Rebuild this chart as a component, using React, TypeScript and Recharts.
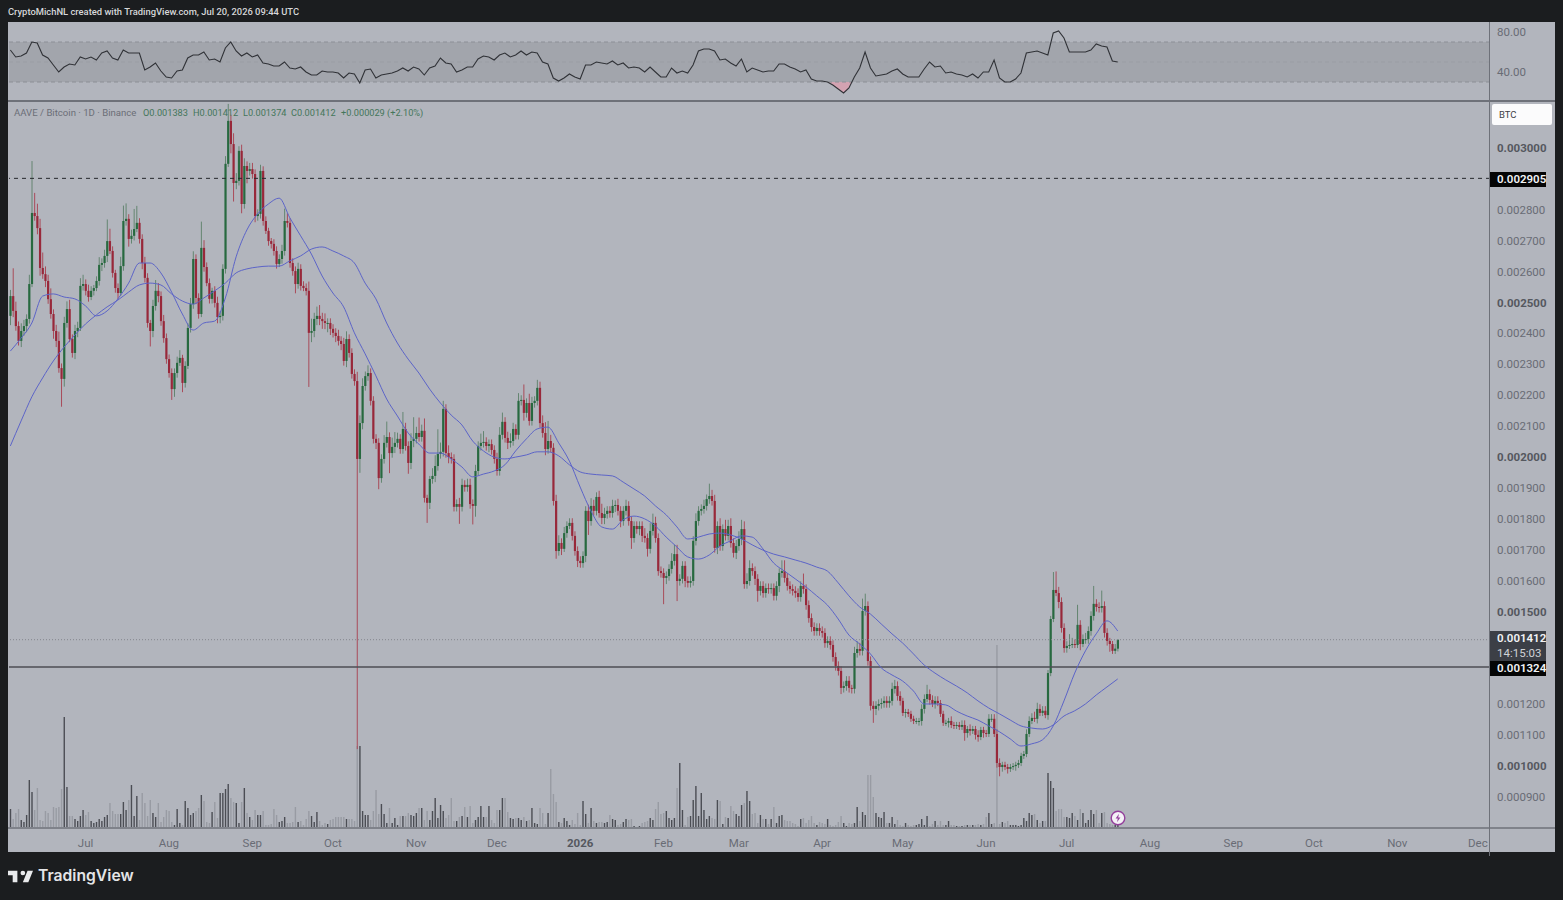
import React from "react";
import { Area, Bar, ComposedChart, Line, ReferenceArea, ReferenceLine, XAxis, YAxis } from "recharts";

// prices are in units of 0.000001 BTC, one entry per day from 2025-06-03
const firstOpen = 2460;
const closes = [
  2524,2476,2427,2379,2411,2427,2450,2563,2793,2783,2744,2615,2595,2573,2514,2466,2411,2379,2291,2256,2437,2482,2385,2340,2411,2421,2557,2563,
  2541,2521,2541,2550,2573,2625,2631,2654,2702,2670,2599,2550,2534,2621,2767,2774,2709,2719,2741,2761,2709,2631,2583,2437,2411,2492,2541,2524,2443,2388,2320,
  2275,2223,2275,2308,2324,2243,2298,2421,2498,2644,2518,2466,2680,2618,2566,2515,2541,2502,2456,2460,2612,2952,3091,3016,2890,2897,2994,2822,2945,2929,2935,
  2919,2783,2790,2929,2767,2735,2702,2693,2670,2628,2644,2670,2767,2761,2631,2605,2563,2612,2557,2550,2541,2405,2411,2450,2460,2450,2443,2437,2437,2418,
  2405,2395,2379,2369,2314,2385,2340,2272,2249,1997,2113,2233,2265,2275,2185,2062,2049,1935,1997,2049,2068,2016,2036,2049,2062,2029,2094,2039,1984,2055,2062,
  2081,2068,2088,1871,1855,1932,1942,1974,2013,2020,2159,2016,2003,1997,1842,1851,1842,1913,1906,1913,1851,1845,1958,2039,2049,2052,2039,2045,2026,1997,
  1958,2075,2117,2065,2049,2055,2094,2075,2185,2188,2146,2178,2120,2178,2185,2227,2113,2081,2029,2055,2033,1861,1699,1725,1706,1757,1780,1790,1748,1699,1667,
  1660,1683,1829,1796,1845,1829,1874,1822,1806,1819,1829,1822,1845,1848,1829,1796,1829,1845,1796,1741,1780,1770,1780,1748,1741,1706,1764,1790,1741,1634,1628,
  1612,1618,1641,1667,1689,1602,1609,1651,1602,1596,1602,1732,1796,1829,1835,1845,1867,1877,1861,1709,1780,1715,1770,1748,1780,1725,1693,1715,
  1738,1770,1592,1602,1644,1634,1609,1570,1586,1563,1579,1576,1579,1554,1586,1628,1634,1612,1586,1576,1570,1563,1550,1586,1576,1524,1482,1453,1440,1450,1440,
  1434,1401,1408,1395,1356,1327,1311,1256,1262,1279,1256,1253,1369,1382,1376,1505,1521,1343,1198,1188,1198,1204,1207,1214,1207,1214,1253,1262,1230,1214,
  1175,1178,1172,1156,1149,1149,1149,1188,1220,1236,1217,1204,1214,1207,1172,1143,1143,1149,1136,1133,1136,1130,1136,1110,1123,1117,1123,1104,1097,1120,1110,
  1107,1156,1156,1107,1013,1000,1007,1000,994,1000,1003,1007,1013,1036,1042,1107,1149,1159,1156,1188,1175,1182,1168,1304,1479,1573,1563,1534,1450,1385,
  1392,1395,1398,1395,1460,1398,1414,1414,1440,1489,1528,1518,1515,1521,1434,1408,1398,1376,1383,1412,
];
// wick lengths above and below the candle body
const upperWicks = [
  20,90,30,15,25,20,15,30,168,65,40,30,50,25,20,35,15,20,30,15,20,25,30,15,20,20,25,30,
  15,20,15,10,15,25,15,20,70,40,15,10,15,30,50,50,15,20,65,55,15,15,20,15,10,20,35,25,15,20,15,
  15,15,15,20,25,10,15,15,20,25,15,15,85,25,15,15,10,15,20,15,15,25,55,20,35,25,15,20,25,15,20,
  20,15,15,20,15,15,10,10,15,15,15,20,40,25,15,15,15,20,15,15,15,30,40,20,30,35,20,25,15,15,
  15,15,20,15,20,25,15,15,15,30,25,25,15,25,15,15,15,15,15,25,50,15,30,35,20,15,55,20,15,25,70,
  20,50,20,40,10,10,25,35,80,30,26,15,25,15,15,15,20,20,15,20,20,15,20,15,30,35,15,15,15,15,
  20,25,30,15,20,25,20,15,25,15,50,15,30,20,15,26,20,25,35,65,20,15,20,25,15,20,15,15,15,15,15,
  15,15,15,20,25,20,15,20,30,20,15,15,20,15,20,15,15,20,15,15,15,15,15,15,25,15,25,30,20,15,15,
  15,15,15,25,30,30,15,15,15,15,15,15,25,15,15,20,15,40,20,20,15,25,15,30,20,25,15,20,
  25,30,25,25,25,15,15,15,15,15,15,15,15,15,15,15,35,35,15,15,15,15,15,15,40,15,15,15,15,15,15,
  15,15,15,15,15,15,15,15,15,15,15,10,20,25,20,40,40,15,15,15,15,15,15,15,15,15,20,20,15,15,
  10,10,10,10,10,10,10,15,15,30,15,15,15,15,10,10,10,10,15,10,10,10,15,15,10,15,10,10,15,10,10,
  10,15,15,15,15,15,10,10,10,10,10,10,10,10,10,15,15,15,20,20,15,15,15,10,10,58,60,20,15,15,
  15,35,20,15,65,15,15,20,15,15,58,15,15,50,15,15,10,10,15,0,
];
const lowerWicks = [
  30,20,15,15,20,15,20,15,10,15,20,25,15,20,15,15,25,20,15,90,25,15,10,15,20,20,10,15,
  15,15,10,15,10,15,20,15,20,10,15,15,20,10,15,15,25,15,15,10,15,20,15,15,50,20,15,20,15,15,15,
  15,35,25,15,10,30,15,10,15,15,20,15,10,15,10,15,15,15,20,20,15,15,10,30,60,20,15,30,15,40,15,
  15,20,15,15,15,10,15,15,15,15,10,15,15,15,15,15,30,15,15,10,15,175,30,20,20,20,25,20,30,20,
  15,20,15,20,15,20,15,15,15,939,45,20,15,15,15,15,20,36,15,15,15,65,15,20,15,15,15,15,35,20,20,
  15,15,15,15,65,20,15,20,15,15,15,15,20,15,15,15,55,15,15,15,15,60,35,15,15,15,15,20,15,15,
  15,15,15,15,20,15,15,15,15,15,25,15,15,15,15,15,15,15,20,15,15,15,25,15,20,10,15,10,15,15,20,
  15,15,20,45,15,15,15,15,20,20,15,15,15,20,15,20,15,15,15,35,15,15,20,20,15,25,15,15,15,15,15,
  85,20,15,15,15,65,15,15,20,15,15,15,15,15,15,15,15,15,15,15,20,15,15,15,15,15,15,20,
  15,20,15,15,15,15,20,35,15,15,15,15,15,15,15,20,15,15,15,15,15,15,15,15,15,15,15,15,15,15,15,
  15,15,15,15,15,15,15,20,15,15,15,15,15,15,15,15,15,15,15,45,20,15,15,15,15,15,15,15,15,15,
  10,15,10,10,10,10,15,15,15,10,15,10,15,10,10,10,10,15,10,10,10,10,10,25,15,15,10,15,15,10,15,
  10,10,10,10,15,30,15,10,15,10,10,15,10,10,10,10,10,10,10,15,10,10,10,15,10,10,10,20,15,15,
  15,10,10,10,10,20,10,15,15,15,15,15,15,15,15,15,25,10,10,9,
];
const volumes = [
  19,9,15,19,8,6,13,48,36,18,40,8,7,17,15,8,21,20,21,39,111,41,12,12,9,7,12,18,
  13,16,7,5,6,9,7,11,13,25,17,14,14,14,26,18,28,43,12,32,8,35,25,12,28,15,11,25,6,11,18,
  17,6,3,19,5,3,27,20,13,15,17,20,33,27,6,5,16,26,10,35,35,39,44,30,26,25,5,26,40,15,11,
  8,18,13,13,17,3,3,4,19,13,6,7,11,5,5,6,21,6,7,3,9,17,12,6,16,7,3,5,4,8,
  9,11,11,11,11,9,9,9,7,82,82,17,13,13,8,17,38,14,24,14,5,20,5,10,3,12,12,12,15,13,12,
  15,20,20,8,17,8,17,30,10,23,17,10,13,30,7,7,11,12,21,11,22,5,8,11,22,11,11,22,8,5,
  18,18,30,30,16,10,9,10,10,8,11,7,8,20,5,4,20,15,4,15,59,34,26,6,5,10,7,3,8,4,15,
  3,27,14,5,20,7,5,6,6,5,6,13,9,8,3,4,6,9,8,9,2,1,2,5,6,7,10,8,19,26,14,
  15,17,10,8,10,40,65,18,3,11,12,28,42,12,35,18,9,12,10,9,28,27,4,11,10,22,17,14,
  12,23,25,37,27,14,15,5,13,9,9,4,9,21,5,12,13,8,7,7,5,4,2,9,10,5,8,12,5,3,6,
  5,4,9,3,2,3,6,12,5,2,5,4,5,21,7,16,13,53,53,31,15,11,10,16,5,5,11,4,8,3,
  2,5,3,2,3,3,4,9,3,12,2,4,7,3,7,3,3,7,3,3,2,2,2,3,3,3,3,3,4,3,4,
  11,15,4,5,183,4,6,5,7,3,3,3,2,3,10,7,15,13,14,8,5,7,7,55,47,40,17,19,19,11,
  11,10,15,12,8,19,15,5,8,18,14,18,5,15,16,5,4,3,3,3,
];
const maFast = [
  2346,2388,2437,2524,2531,2521,2515,2492,2460,2476,2515,2566,2631,2631,2599,2537,2466,2414,2437,2443,2518,2651,2738,2790,2822,2841,
  2777,2719,2660,2589,2534,2489,2405,2337,2266,2191,2136,2081,2045,2016,2016,1997,1971,1939,1948,1958,1978,2023,2062,2094,2100,2049,
  1990,1906,1829,1777,1770,1800,1812,1803,1780,1744,1712,1680,1673,1686,1715,1732,1748,1744,1706,1660,1634,1609,1583,1554,1524,1479,
  1427,1398,1366,1321,1298,1278,1246,1204,1204,1201,1181,1165,1152,1133,1114,1091,1068,1075,1088,1133,1214,1304,1376,1431,1473,1440,
];
const maSlow = [
  2039,2120,2198,2259,2314,2359,2398,2434,2463,2489,2511,2537,2560,2566,2560,2531,2508,2498,2518,2541,2566,2599,2612,2618,2621,2621,
  2638,2654,2676,2683,2670,2654,2631,2566,2515,2437,2372,2320,2275,2223,2178,2139,2107,2055,2023,2003,1997,2003,2010,2020,2020,2007,
  1978,1955,1948,1945,1942,1922,1900,1877,1845,1816,1777,1738,1744,1754,1757,1751,1738,1719,1702,1689,1680,1670,1660,1647,1634,1596,
  1554,1518,1495,1463,1431,1401,1366,1330,1304,1282,1262,1240,1214,1191,1172,1152,1133,1126,1123,1136,1165,1182,1204,1233,1259,1285,
];
const rsiValues = [
  62,55,56,59,70,69,57,54,47,40,45,48,47,55,53,55,52,59,61,54,52,62,59,59,59,42,45,49,41,35,34,41,42,54,57,57,60,52,53,50,64,70,61,56,59,55,57,49,48,46,46,50,44,43,45,40,37,37,41,40,40,39,34,39,38,29,42,43,34,37,38,39,41,44,41,45,43,37,44,46,54,49,48,40,42,45,45,53,56,55,52,57,59,55,57,61,57,60,59,50,48,34,31,34,38,35,33,47,47,50,
  49,48,51,47,49,44,45,44,40,45,40,35,35,44,39,41,39,47,61,63,63,61,52,53,49,46,53,40,44,42,40,41,41,48,48,45,43,40,42,33,31,31,30,27,23,19,24,35,44,60,44,36,37,38,41,43,38,35,35,35,43,50,45,46,39,40,38,37,35,38,34,40,40,52,34,30,30,33,39,59,60,61,59,57,79,81,74,60,60,60,60,62,68,66,65,51,50,
];
// the stretch of RSI under 30 in April 2026, shaded in the pane
const oversoldStart = 304;
const oversoldValues = [30, 29, 27, 25, 23, 21, 19, 21, 24, 30];

// 0.002900, 0.001400 and 0.001300 sit behind the price labels, as in TradingView
const priceTicks = [900,1000,1100,1200,1500,1600,1700,1800,1900,2000,2100,2200,2300,2400,2500,2600,2700,2800,3000];
const strongTicks = [1000, 1500, 2000, 2500, 3000];
const rsiTicks = [80, 40];
const monthDays = ["2025-07-01","2025-08-01","2025-09-01","2025-10-01","2025-11-01","2025-12-01","2026-01-01","2026-02-01","2026-03-01","2026-04-01","2026-05-01","2026-06-01","2026-07-01","2026-08-01","2026-09-01","2026-10-01","2026-11-01","2026-12-01"];
const monthNames = ["Jul","Aug","Sep","Oct","Nov","Dec","2026","Feb","Mar","Apr","May","Jun","Jul","Aug","Sep","Oct","Nov","Dec"];

const TOTAL_DAYS = 551;
const GREY_TEXT = "#696c75";
const UP = "#27693f";
const DOWN = "#98283a";

const dayKey = (i: number) => new Date(Date.UTC(2025, 5, 3 + i)).toISOString().slice(0, 10);

const rows = Array.from({ length: TOTAL_DAYS }, (_, i) => {
  const row: any = { day: dayKey(i) };
  if (i < closes.length) {
    const close = closes[i];
    const open = i === 0 ? firstOpen : closes[i - 1];
    const high = Math.max(open, close) + upperWicks[i];
    const low = Math.min(open, close) - lowerWicks[i];
    Object.assign(row, { open, close, high, low, range: [low, high], volume: volumes[i] });
    if (i % 2 === 0) row.rsi = rsiValues[i / 2];
    if (i % 4 === 0) {
      row.maFast = maFast[i / 4];
      row.maSlow = maSlow[i / 4];
    }
  }
  const o = i - oversoldStart;
  if (o >= 0 && o < oversoldValues.length) row.oversold = [oversoldValues[o], 30];
  return row;
});

function Candle(props: any) {
  const { x, y, width, height, payload } = props;
  if (!payload || !payload.range) return null;
  const { open, close, high, low } = payload;
  const top = Math.min(y, y + height);
  const k = Math.abs(height) / (high - low);
  const cx = x + width / 2;
  const up = close >= open;
  const bodyTop = top + (high - Math.max(open, close)) * k;
  const bodyH = Math.max(Math.abs(open - close) * k, 1);
  return (
    <g>
      <rect x={cx - 0.45} y={top} width={0.9} height={Math.abs(height)} fill={up ? "#5c8069" : "#a8404f"} />
      <rect x={cx - 1.1} y={bodyTop} width={2.2} height={bodyH} fill={up ? UP : DOWN} />
    </g>
  );
}

function VolumeBar(props: any) {
  const { x, y, width, height, payload } = props;
  if (!payload || !payload.volume) return null;
  const up = payload.close >= payload.open;
  return <rect x={x + width / 2 - 0.7} y={y} width={1.4} height={height} fill={up ? "#4b4d54" : "#989ba3"} />;
}

function PriceTick(props: any) {
  const { x, y, payload } = props;
  const strong = strongTicks.includes(payload.value);
  return (
    <text x={x - 1} y={y + 3} fontSize={11.5} fontFamily="Roboto" fontWeight={strong ? 700 : 400} fill={strong ? "#55585f" : GREY_TEXT}>
      {(payload.value / 1e6).toFixed(6)}
    </text>
  );
}

function RsiTick(props: any) {
  const { x, y, payload } = props;
  return (
    <text x={x - 1} y={y + 4} fontSize={11.5} fontFamily="Roboto" fill={GREY_TEXT}>
      {payload.value.toFixed(2)}
    </text>
  );
}

function MonthTick(props: any) {
  const { x, y, payload } = props;
  const name = monthNames[monthDays.indexOf(payload.value)];
  const strong = name === "2026";
  return (
    <text x={x} y={y + 10} textAnchor="middle" fontSize={11.5} fontFamily="Roboto" fontWeight={strong ? 700 : 400} fill={strong ? "#55585f" : GREY_TEXT}>
      {name}
    </text>
  );
}

function PriceLabel({ top, height, bg, children }: any) {
  return (
    <div style={{ position: "absolute", left: 1490, top, width: 56, height, boxSizing: "border-box", paddingLeft: 7, background: bg, color: "#f2f3f5", fontSize: 11.5, fontWeight: 600, fontFamily: "Roboto", lineHeight: "15px" }}>
      {children}
    </div>
  );
}

function Legend({ left, color, size = 9.2, children }: any) {
  return <span style={{ position: "absolute", left, top: 107, fontSize: size, lineHeight: "12px", color, whiteSpace: "nowrap" }}>{children}</span>;
}

export default function App() {
  return (
    <div style={{ position: "fixed", left: 0, top: 0, width: 1563, height: 900, background: "#1b1d1f", overflow: "hidden", fontFamily: "Roboto" }}>
      <div style={{ position: "absolute", left: 8, top: 5, fontSize: 9.4, lineHeight: "14px", fontWeight: 500, color: "#d6d7d9", whiteSpace: "nowrap" }}>
        CryptoMichNL created with TradingView.com, Jul 20, 2026 09:44 UTC
      </div>
      <div style={{ position: "absolute", left: 8, top: 22, width: 1547, height: 830, background: "#b2b5bd" }} />

      <div style={{ position: "absolute", left: 9, top: 22 }}>
        <ComposedChart width={1546} height={79} data={rows} margin={{ top: 0, right: 0, bottom: 0, left: 0 }}>
          <XAxis dataKey="day" scale="band" hide />
          <YAxis yAxisId={0} orientation="right" width={65} domain={[11, 90]} ticks={rsiTicks} interval={0} axisLine={false} tickLine={false} tick={<RsiTick />} />
          <ReferenceArea y1={30} y2={70} fill="#a2a5ac" fillOpacity={1} stroke="none" ifOverflow="hidden" />
          <ReferenceLine y={70} stroke="#8c8f96" strokeDasharray="4 3" />
          <ReferenceLine y={50} stroke="#9a9da4" strokeDasharray="4 3" />
          <ReferenceLine y={30} stroke="#8c8f96" strokeDasharray="4 3" />
          <Area dataKey="oversold" stroke="none" fill="#d3a3b2" fillOpacity={1} isAnimationActive={false} dot={false} activeDot={false} />
          <Line dataKey="rsi" stroke="#303237" strokeWidth={1.1} dot={false} activeDot={false} connectNulls isAnimationActive={false} />
        </ComposedChart>
      </div>

      <div style={{ position: "absolute", left: 9, top: 101 }}>
        <ComposedChart width={1546} height={751} data={rows} barCategoryGap={0} barGap={0} margin={{ top: 0, right: 65, bottom: 24, left: 0 }}>
          <XAxis dataKey="day" scale="band" hide />
          <YAxis type="number" hide domain={[0, 727]} />
          <Bar dataKey="volume" shape={<VolumeBar />} isAnimationActive={false} />
        </ComposedChart>
      </div>

      <div style={{ position: "absolute", left: 9, top: 102 }}>
        <ComposedChart width={1546} height={751} data={rows} barCategoryGap={0} barGap={0} margin={{ top: 0, right: 0, bottom: 0, left: 0 }}>
          <XAxis dataKey="day" scale="band" height={24} ticks={monthDays} interval={0} axisLine={false} tickLine={false} tick={<MonthTick />} />
          <YAxis type="number" orientation="right" width={65} domain={[799.4, 3152.1]} ticks={priceTicks} interval={0} axisLine={false} tickLine={false} tick={<PriceTick />} allowDataOverflow />
          <ReferenceLine y={2905} stroke="#26282c" strokeDasharray="4 4" />
          <ReferenceLine y={1412} stroke="#83868d" strokeDasharray="1 2" />
          <ReferenceLine y={1324} stroke="#4c4e54" strokeWidth={1.5} />
          <Bar dataKey="range" shape={<Candle />} isAnimationActive={false} />
          <Line dataKey="maSlow" type="monotone" stroke="#5c64c8" strokeWidth={1} dot={false} activeDot={false} connectNulls isAnimationActive={false} />
          <Line dataKey="maFast" type="monotone" stroke="#5c64c8" strokeWidth={1} dot={false} activeDot={false} connectNulls isAnimationActive={false} />
        </ComposedChart>
      </div>

      <div style={{ position: "absolute", left: 8, top: 100, width: 1547, height: 2, background: "#6e7179" }} />
      <div style={{ position: "absolute", left: 8, top: 827, width: 1547, height: 2, background: "#7f828a" }} />
      <div style={{ position: "absolute", left: 1489, top: 22, width: 1, height: 834, background: "#6e7179" }} />

      <Legend left={14} color="#6b6e77" size={9.6}>AAVE / Bitcoin · 1D · Binance</Legend>
      <Legend left={143} color="#44765a">O0.001383</Legend>
      <Legend left={193} color="#44765a">H0.001412</Legend>
      <Legend left={243} color="#44765a">L0.001374</Legend>
      <Legend left={291} color="#44765a">C0.001412</Legend>
      <Legend left={341} color="#44765a">+0.000029 (+2.10%)</Legend>

      <div style={{ position: "absolute", left: 1492, top: 104, width: 60, height: 21, borderRadius: 2, background: "#fbfbfc", color: "#3d4047", fontSize: 9.5, lineHeight: "21px", paddingLeft: 7, boxSizing: "border-box" }}>BTC</div>
      <PriceLabel top={172} height={15} bg="#050505">0.002905</PriceLabel>
      <PriceLabel top={631} height={30} bg="#3c3f46">0.001412<br /><span style={{ fontWeight: 400, color: "#d0d2d6" }}>14:15:03</span></PriceLabel>
      <PriceLabel top={661} height={15} bg="#050505">0.001324</PriceLabel>

      <svg style={{ position: "absolute", left: 1110, top: 810 }} width={16} height={16} viewBox="0 0 16 16">
        <circle cx={8} cy={8} r={6.8} fill="#f4f1f6" stroke="#94409c" strokeWidth={1.4} />
        <path d="M9 3.8 5.6 8.6h2.2L7 12.2l3.4-4.8H8.2z" fill="#94409c" />
      </svg>

      <svg style={{ position: "absolute", left: 8, top: 870 }} width={25} height={13} viewBox="2 6 32 15">
        <path d="M14 6H2v6h6v9h6V6zm14 15h-7l6-15h7l-6 15zm-7-9a3 3 0 1 0 0-6 3 3 0 0 0 0 6z" fill="#e9eaec" />
      </svg>
      <div style={{ position: "absolute", left: 38, top: 866, fontFamily: "Inter", fontSize: 15.7, lineHeight: "20px", fontWeight: 600, color: "#e4e5e7", whiteSpace: "nowrap" }}>TradingView</div>
    </div>
  );
}
